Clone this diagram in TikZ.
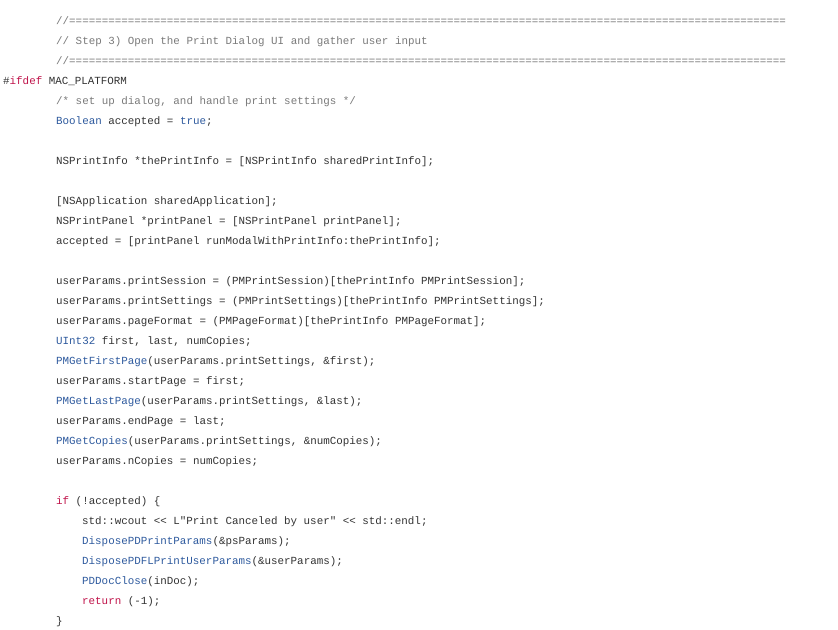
\documentclass[tikz,border=0pt]{standalone}
\usepackage{fontspec}
\newfontfamily\codefont{Liberation Mono}
\definecolor{cmt}{HTML}{7A7A7A}
\definecolor{kw}{HTML}{C0134A}
\definecolor{ty}{HTML}{2E5A9E}
\definecolor{txt}{HTML}{333333}
\newcommand{\K}[1]{\textcolor{kw}{#1}}
\newcommand{\T}[1]{\textcolor{ty}{#1}}
\newcommand{\C}[1]{\textcolor{cmt}{#1}}
\begin{document}
\begin{tikzpicture}[x=1bp,y=1bp,
  ln/.style={anchor=base west,inner sep=0pt,font=\codefont\fontsize{10.9}{12}\selectfont,text=txt}]
\fill[white] (0,0) rectangle (838,630);
\clip (0,0) rectangle (838,630);
\useasboundingbox (0,0) rectangle (838,630);
\def\L#1{605-20*#1}
\node[ln] (l0) at (56,{\L{0}}) {\C{//==============================================================================================================}};
\node[ln] (l1) at (56,{\L{1}}) {\C{// Step 3) Open the Print Dialog UI and gather user input}};
\node[ln] (l2) at (56,{\L{2}}) {\C{//==============================================================================================================}};
\node[ln] (l3) at (3,{\L{3}}) {\#\K{ifdef} MAC\_PLATFORM};
\node[ln] (l4) at (56,{\L{4}}) {\C{/* set up dialog, and handle print settings */}};
\node[ln] (l5) at (56,{\L{5}}) {\T{Boolean} accepted = \T{true};};
\node[ln] (l7) at (56,{\L{7}}) {NSPrintInfo *thePrintInfo = [NSPrintInfo sharedPrintInfo];};
\node[ln] (l9) at (56,{\L{9}}) {[NSApplication sharedApplication];};
\node[ln] (l10) at (56,{\L{10}}) {NSPrintPanel *printPanel = [NSPrintPanel printPanel];};
\node[ln] (l11) at (56,{\L{11}}) {accepted = [printPanel runModalWithPrintInfo:thePrintInfo];};
\node[ln] (l13) at (56,{\L{13}}) {userParams.printSession = (PMPrintSession)[thePrintInfo PMPrintSession];};
\node[ln] (l14) at (56,{\L{14}}) {userParams.printSettings = (PMPrintSettings)[thePrintInfo PMPrintSettings];};
\node[ln] (l15) at (56,{\L{15}}) {userParams.pageFormat = (PMPageFormat)[thePrintInfo PMPageFormat];};
\node[ln] (l16) at (56,{\L{16}}) {\T{UInt32} first, last, numCopies;};
\node[ln] (l17) at (56,{\L{17}}) {\T{PMGetFirstPage}(userParams.printSettings, \&first);};
\node[ln] (l18) at (56,{\L{18}}) {userParams.startPage = first;};
\node[ln] (l19) at (56,{\L{19}}) {\T{PMGetLastPage}(userParams.printSettings, \&last);};
\node[ln] (l20) at (56,{\L{20}}) {userParams.endPage = last;};
\node[ln] (l21) at (56,{\L{21}}) {\T{PMGetCopies}(userParams.printSettings, \&numCopies);};
\node[ln] (l22) at (56,{\L{22}}) {userParams.nCopies = numCopies;};
\node[ln] (l24) at (56,{\L{24}}) {\K{if} (!accepted) \{};
\node[ln] (l25) at (82,{\L{25}}) {std::wcout <{}< L"Print Canceled by user" <{}< std::endl;};
\node[ln] (l26) at (82,{\L{26}}) {\T{DisposePDPrintParams}(\&psParams);};
\node[ln] (l27) at (82,{\L{27}}) {\T{DisposePDFLPrintUserParams}(\&userParams);};
\node[ln] (l28) at (82,{\L{28}}) {\T{PDDocClose}(inDoc);};
\node[ln] (l29) at (82,{\L{29}}) {\K{return} (-1);};
\node[ln] (l30) at (56,{\L{30}}) {\}};
\end{tikzpicture}
\end{document}
